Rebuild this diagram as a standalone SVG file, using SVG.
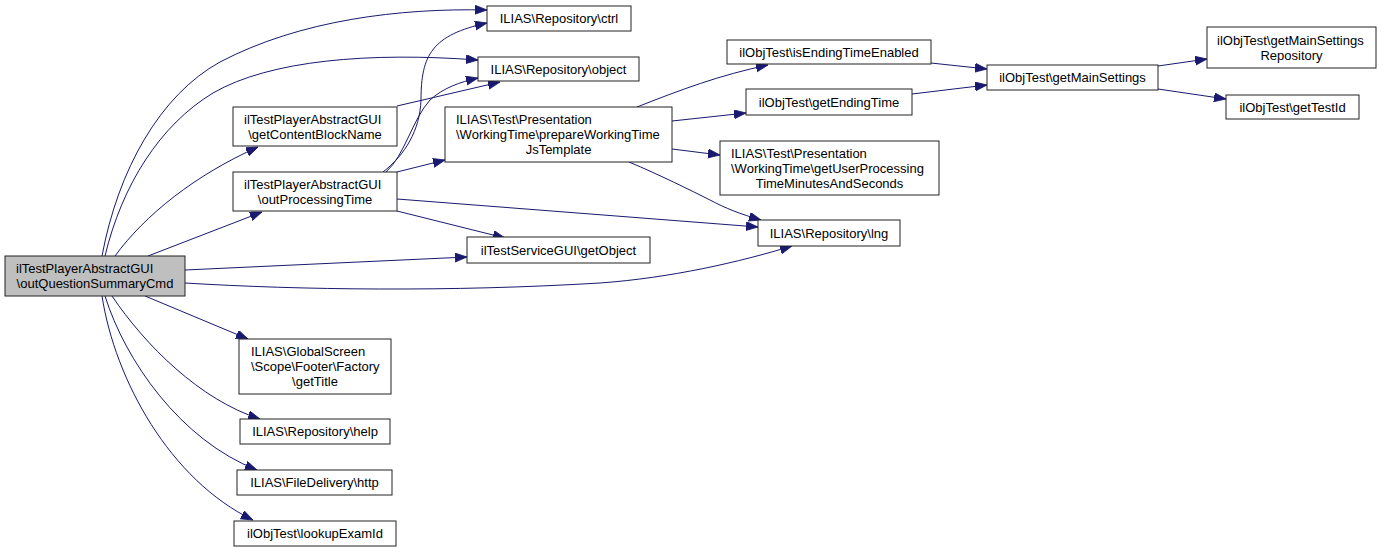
<svg xmlns="http://www.w3.org/2000/svg" width="1384" height="552" viewBox="0 0 1384 552">
<style>
.n rect{fill:#fff;stroke:#222;stroke-width:1}
.n.m rect{fill:#bfbfbf}
.n text{font-family:"Liberation Sans",Arial,sans-serif;font-size:13px;fill:#000}
.c{text-anchor:middle}
#edges path{fill:none;stroke:#191970;stroke-width:1;marker-end:url(#a)}
</style>
<defs>
<marker id="a" markerUnits="userSpaceOnUse" markerWidth="13" markerHeight="10" refX="12" refY="4.5" orient="auto">
<path d="M0,0 L12,4.5 L0,9 z" fill="#191970" stroke="#191970" stroke-width="0.8"/>
</marker>
</defs>
<rect width="1384" height="552" fill="#fff"/>
<g id="edges">
<path d="M102,256 C118,170 160,95 220,62 C300,20 400,8 487,10"/>
<path d="M105,256 C122,185 160,125 213,93 C270,60 370,52 478,60"/>
<path d="M115,256 C145,215 195,175 258,147"/>
<path d="M148,256 L262,212"/>
<path d="M185,270 L467,257"/>
<path d="M185,283 C300,290 450,292 600,283 C670,278 740,262 792,246"/>
<path d="M145,296 L248,339"/>
<path d="M112,296 C145,345 200,400 260,419"/>
<path d="M105,296 C125,360 180,440 257,470"/>
<path d="M102,296 C115,380 170,480 253,520"/>
<path d="M397,106 L500,82"/>
<path d="M383,172 C405,155 420,130 421,100 C421,55 432,35 487,23"/>
<path d="M386,172 C405,155 412,120 430,100 C443,88 460,82 478,78"/>
<path d="M397,172 L445,160"/>
<path d="M397,199 L758,227"/>
<path d="M397,211 L505,238"/>
<path d="M637,107 C680,90 720,75 768,65"/>
<path d="M672,121 L746,113"/>
<path d="M672,149 L720,155"/>
<path d="M629,162 C660,175 690,190 710,200 C725,208 740,214 761,220"/>
<path d="M931,63 L987,69"/>
<path d="M912,94 L987,85"/>
<path d="M1158,66 L1207,59"/>
<path d="M1158,89 L1226,99"/>
</g>
<g id="n_main" class="n m"><rect x="5" y="256" width="180" height="40"/><text x="16" y="273">ilTestPlayerAbstractGUI</text><text class="c" x="95" y="288">\outQuestionSummaryCmd</text></g>
<g id="n_gcbn" class="n"><rect x="233" y="107" width="164" height="39"/><text x="244" y="123.5">ilTestPlayerAbstractGUI</text><text class="c" x="315" y="138.5">\getContentBlockName</text></g>
<g id="n_opt" class="n"><rect x="233" y="172" width="164" height="39"/><text x="244" y="188.5">ilTestPlayerAbstractGUI</text><text class="c" x="315" y="203.5">\outProcessingTime</text></g>
<g id="n_ctrl" class="n"><rect x="487" y="6" width="144" height="25"/><text class="c" x="559" y="23">ILIAS\Repository\ctrl</text></g>
<g id="n_object" class="n"><rect x="478" y="57" width="161" height="24"/><text class="c" x="558.5" y="73.5">ILIAS\Repository\object</text></g>
<g id="n_prepare" class="n"><rect x="445" y="107" width="227" height="55"/><text x="456" y="124">ILIAS\Test\Presentation</text><text x="456" y="139">\WorkingTime\prepareWorkingTime</text><text class="c" x="558.5" y="154">JsTemplate</text></g>
<g id="n_isending" class="n"><rect x="727" y="40" width="204" height="24"/><text class="c" x="829" y="56.5">ilObjTest\isEndingTimeEnabled</text></g>
<g id="n_getending" class="n"><rect x="746" y="89" width="166" height="26"/><text class="c" x="829" y="106.5">ilObjTest\getEndingTime</text></g>
<g id="n_userproc" class="n"><rect x="720" y="141" width="219" height="54"/><text x="731" y="157.5">ILIAS\Test\Presentation</text><text x="731" y="172.5">\WorkingTime\getUserProcessing</text><text class="c" x="829.5" y="187.5">TimeMinutesAndSeconds</text></g>
<g id="n_lng" class="n"><rect x="758" y="220" width="142" height="26"/><text class="c" x="829" y="237.5">ILIAS\Repository\lng</text></g>
<g id="n_getobject" class="n"><rect x="467" y="237" width="183" height="26"/><text class="c" x="558.5" y="254.5">ilTestServiceGUI\getObject</text></g>
<g id="n_mainsettings" class="n"><rect x="987" y="65" width="171" height="25"/><text class="c" x="1072.5" y="82">ilObjTest\getMainSettings</text></g>
<g id="n_msrepo" class="n"><rect x="1207" y="27" width="169" height="41"/><text x="1217" y="44.5">ilObjTest\getMainSettings</text><text class="c" x="1291.5" y="59.5">Repository</text></g>
<g id="n_testid" class="n"><rect x="1226" y="95" width="133" height="24"/><text class="c" x="1292.5" y="111.5">ilObjTest\getTestId</text></g>
<g id="n_title" class="n"><rect x="239" y="339" width="152" height="55"/><text x="251" y="356">ILIAS\GlobalScreen</text><text x="251" y="371">\Scope\Footer\Factory</text><text class="c" x="315" y="386">\getTitle</text></g>
<g id="n_help" class="n"><rect x="240" y="419" width="150" height="25"/><text class="c" x="315" y="436">ILIAS\Repository\help</text></g>
<g id="n_http" class="n"><rect x="237" y="470" width="155" height="25"/><text class="c" x="314.5" y="487">ILIAS\FileDelivery\http</text></g>
<g id="n_lookup" class="n"><rect x="234" y="521" width="162" height="25"/><text class="c" x="315" y="538">ilObjTest\lookupExamId</text></g>
</svg>
